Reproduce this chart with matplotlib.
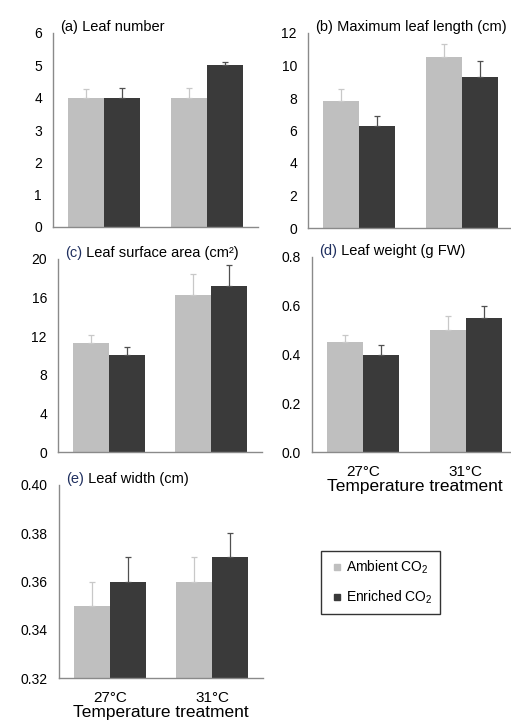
import matplotlib
matplotlib.use("Agg")
import matplotlib.pyplot as plt
import numpy as np
from matplotlib.lines import Line2D

plt.rcParams['font.family'] = ['Liberation Sans', 'DejaVu Sans']
plt.rcParams['mathtext.fontset'] = 'custom'
plt.rcParams['mathtext.rm'] = 'Liberation Sans'
plt.rcParams['mathtext.it'] = 'Liberation Sans'

# ─── DATA ───────────────────────────────────────────────
temps = ['27°C', '31°C']
series = ['Ambient CO$_2$', 'Enriched CO$_2$']

leaf_number_amb = [4.0, 4.0]
leaf_number_enr = [4.0, 5.0]
leaf_number_amb_se = [0.28, 0.29]
leaf_number_enr_se = [0.29, 0.10]

leaf_length_amb = [7.8, 10.5]
leaf_length_enr = [6.3, 9.3]
leaf_length_amb_se = [0.75, 0.85]
leaf_length_enr_se = [0.6, 1.0]

leaf_area_amb = [11.3, 16.3]
leaf_area_enr = [10.05, 17.25]
leaf_area_amb_se = [0.8, 2.1]
leaf_area_enr_se = [0.8, 2.1]

leaf_weight_amb = [0.45, 0.50]
leaf_weight_enr = [0.40, 0.55]
leaf_weight_amb_se = [0.03, 0.06]
leaf_weight_enr_se = [0.04, 0.05]

leaf_width_amb = [0.35, 0.36]
leaf_width_enr = [0.36, 0.37]
leaf_width_amb_se = [0.01, 0.01]
leaf_width_enr_se = [0.01, 0.01]

GRAY = '#bfbfbf'
DARK = '#3a3a3a'
W, H = 511, 727


def rect(l, r, t, b):
    return [l / W, 1 - b / H, (r - l) / W, (b - t) / H]


fig = plt.figure(figsize=(W / 100, H / 100), dpi=100)


def panel(pos, tag, title, amb, enr, amb_se, enr_se, ylim, yticks, fmt, xlab=False, tagcol='black'):
    ax = fig.add_axes(rect(*pos))
    x = np.arange(len(temps))
    w = 0.35
    base = ylim[0]
    ax.bar(x - w / 2, np.array(amb) - base, w, bottom=base, color=GRAY)
    ax.bar(x + w / 2, np.array(enr) - base, w, bottom=base, color=DARK)
    ax.errorbar(x - w / 2, amb, yerr=[np.zeros(2), amb_se], fmt='none',
                ecolor='#c8c8c8', elinewidth=0.9, capsize=2.5, capthick=0.9)
    ax.errorbar(x + w / 2, enr, yerr=[np.zeros(2), enr_se], fmt='none',
                ecolor='#505050', elinewidth=0.9, capsize=2.5, capthick=0.9)
    ax.set_xlim(-0.5, 1.5)
    ax.set_ylim(*ylim)
    ax.set_yticks(yticks)
    ax.set_yticklabels([fmt.format(v) for v in yticks], fontsize=10)
    ax.tick_params(axis='y', length=0, pad=8)
    ax.spines['top'].set_visible(False)
    ax.spines['right'].set_visible(False)
    for s in ['left', 'bottom']:
        ax.spines[s].set_color('#8a8a8a')
        ax.spines[s].set_linewidth(1.0)
    if xlab:
        ax.set_xticks(x)
        ax.set_xticklabels(temps, fontsize=11)
        ax.tick_params(axis='x', length=0, pad=9)
        ax.set_xlabel('Temperature treatment', fontsize=12.5, labelpad=0)
    else:
        ax.set_xticks([])
    t1 = ax.text(0.033, 1.008, tag, transform=ax.transAxes, fontsize=10.5,
                 va='baseline', ha='left', color=tagcol)
    ax.annotate(title, xy=(1, 0), xycoords=t1, fontsize=10.5,
                va='bottom', ha='left', color='black')
    return ax


panel((53, 258, 33, 227), '(a)', ' Leaf number',
      leaf_number_amb, leaf_number_enr, leaf_number_amb_se, leaf_number_enr_se,
      (0, 6), [0, 1, 2, 3, 4, 5, 6], '{:.0f}')
panel((308, 513, 33, 228), '(b)', ' Maximum leaf length (cm)',
      leaf_length_amb, leaf_length_enr, leaf_length_amb_se, leaf_length_enr_se,
      (0, 12), [0, 2, 4, 6, 8, 10, 12], '{:.0f}')
panel((58, 262, 259, 452), '(c)', ' Leaf surface area (cm²)',
      leaf_area_amb, leaf_area_enr, leaf_area_amb_se, leaf_area_enr_se,
      (0, 20), [0, 4, 8, 12, 16, 20], '{:.0f}', tagcol='#1f2f5f')
panel((312, 517, 257, 452), '(d)', ' Leaf weight (g FW)',
      leaf_weight_amb, leaf_weight_enr, leaf_weight_amb_se, leaf_weight_enr_se,
      (0, 0.8), [0.0, 0.2, 0.4, 0.6, 0.8], '{:.1f}', xlab=True, tagcol='#1f2f5f')
panel((59, 263, 485, 678), '(e)', ' Leaf width (cm)',
      leaf_width_amb, leaf_width_enr, leaf_width_amb_se, leaf_width_enr_se,
      (0.32, 0.40), [0.32, 0.34, 0.36, 0.38, 0.40], '{:.2f}', xlab=True, tagcol='#1f2f5f')

handles = [Line2D([], [], ls='none', marker='s', markersize=5, color=GRAY, label=series[0]),
           Line2D([], [], ls='none', marker='s', markersize=5, color=DARK, label=series[1])]
leg = fig.legend(handles=handles, loc='center', bbox_to_anchor=(380.5 / W, 1 - 582.5 / H),
                 fontsize=10, handlelength=1.3, handletextpad=0.0,
                 labelspacing=0.9, borderpad=0.55, frameon=True, fancybox=False)
leg.get_frame().set_edgecolor('black')
leg.get_frame().set_linewidth(1.0)

plt.savefig("out.png", dpi=100)
